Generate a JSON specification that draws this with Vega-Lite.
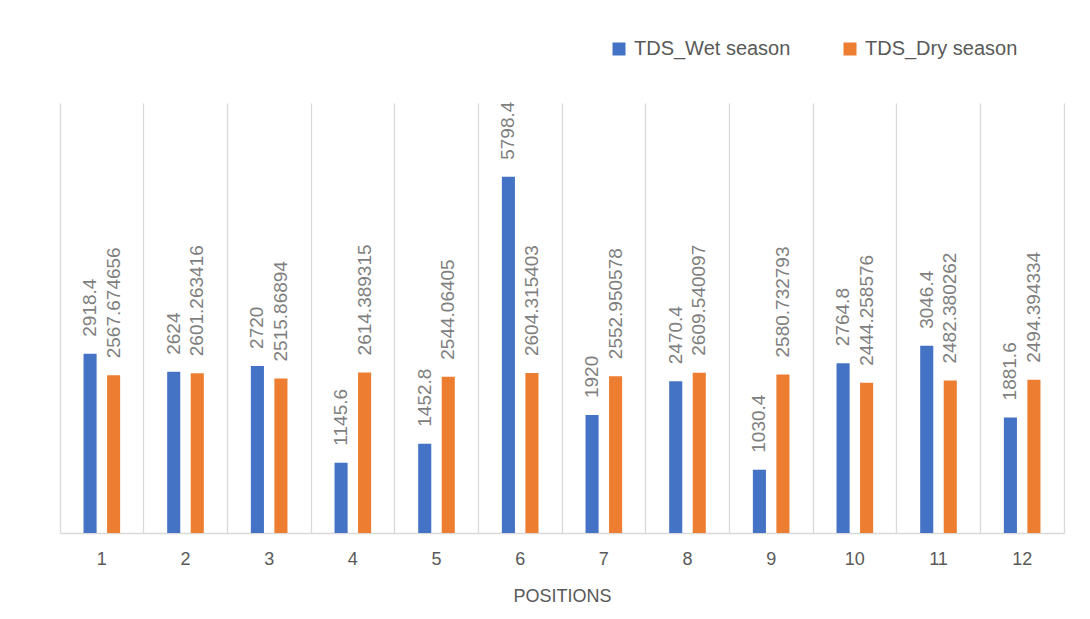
{
  "$schema": "https://vega.github.io/schema/vega-lite/v6.json",
  "autosize": {"type": "none"},
  "width": 1004,
  "height": 430,
  "padding": {"left": 60, "top": 103, "right": 26, "bottom": 86},
  "background": "white",
  "config": {
    "font": "Liberation Sans",
    "view": {"stroke": null}
  },
  "data": {
    "values": [
      {"position": 1, "season": "TDS_Wet season", "tds": 2918.4},
      {"position": 1, "season": "TDS_Dry season", "tds": 2567.674656},
      {"position": 2, "season": "TDS_Wet season", "tds": 2624},
      {"position": 2, "season": "TDS_Dry season", "tds": 2601.263416},
      {"position": 3, "season": "TDS_Wet season", "tds": 2720},
      {"position": 3, "season": "TDS_Dry season", "tds": 2515.86894},
      {"position": 4, "season": "TDS_Wet season", "tds": 1145.6},
      {"position": 4, "season": "TDS_Dry season", "tds": 2614.389315},
      {"position": 5, "season": "TDS_Wet season", "tds": 1452.8},
      {"position": 5, "season": "TDS_Dry season", "tds": 2544.06405},
      {"position": 6, "season": "TDS_Wet season", "tds": 5798.4},
      {"position": 6, "season": "TDS_Dry season", "tds": 2604.315403},
      {"position": 7, "season": "TDS_Wet season", "tds": 1920},
      {"position": 7, "season": "TDS_Dry season", "tds": 2552.950578},
      {"position": 8, "season": "TDS_Wet season", "tds": 2470.4},
      {"position": 8, "season": "TDS_Dry season", "tds": 2609.540097},
      {"position": 9, "season": "TDS_Wet season", "tds": 1030.4},
      {"position": 9, "season": "TDS_Dry season", "tds": 2580.732793},
      {"position": 10, "season": "TDS_Wet season", "tds": 2764.8},
      {"position": 10, "season": "TDS_Dry season", "tds": 2444.258576},
      {"position": 11, "season": "TDS_Wet season", "tds": 3046.4},
      {"position": 11, "season": "TDS_Dry season", "tds": 2482.380262},
      {"position": 12, "season": "TDS_Wet season", "tds": 1881.6},
      {"position": 12, "season": "TDS_Dry season", "tds": 2494.394334}
    ]
  },
  "encoding": {
    "x": {
      "field": "position",
      "type": "ordinal",
      "scale": {"paddingInner": 0, "paddingOuter": 0},
      "axis": {
        "title": "POSITIONS",
        "titleFontSize": 18,
        "titleFontWeight": "normal",
        "titleColor": "#595959",
        "titlePadding": 19,
        "labelAngle": 0,
        "labelFontSize": 18,
        "labelColor": "#595959",
        "labelPadding": 17,
        "ticks": false,
        "domainColor": "#d9d9d9",
        "domainWidth": 1.3,
        "grid": true,
        "gridColor": "#d9d9d9",
        "gridWidth": 1.3,
        "bandPosition": 0
      }
    },
    "xOffset": {
      "field": "season",
      "type": "nominal",
      "sort": ["TDS_Wet season", "TDS_Dry season"],
      "scale": {"paddingInner": 0.444, "paddingOuter": 1.16}
    },
    "y": {
      "field": "tds",
      "type": "quantitative",
      "scale": {"domain": [0, 7000], "nice": false},
      "axis": {
        "orient": "right",
        "title": null,
        "labels": false,
        "ticks": false,
        "grid": false,
        "domainColor": "#d9d9d9",
        "domainWidth": 1.3
      }
    }
  },
  "layer": [
    {
      "mark": {"type": "bar"},
      "encoding": {
        "color": {
          "field": "season",
          "type": "nominal",
          "sort": ["TDS_Wet season", "TDS_Dry season"],
          "scale": {
            "domain": ["TDS_Wet season", "TDS_Dry season"],
            "range": ["#4472C4", "#ED7D31"]
          },
          "legend": {
            "title": null,
            "orient": "none",
            "legendX": 549,
            "legendY": -64,
            "direction": "horizontal",
            "symbolType": "square",
            "symbolSize": 169,
            "symbolStrokeWidth": 0,
            "labelFontSize": 20,
            "labelColor": "#595959",
            "labelOffset": 5,
            "columnPadding": 49,
            "padding": 0
          }
        }
      }
    },
    {
      "mark": {
        "type": "text",
        "angle": -90,
        "align": "left",
        "baseline": "middle",
        "dx": 17,
        "fontSize": 19,
        "color": "#7f7f7f"
      },
      "encoding": {
        "text": {"field": "tds", "type": "nominal"}
      }
    }
  ]
}
